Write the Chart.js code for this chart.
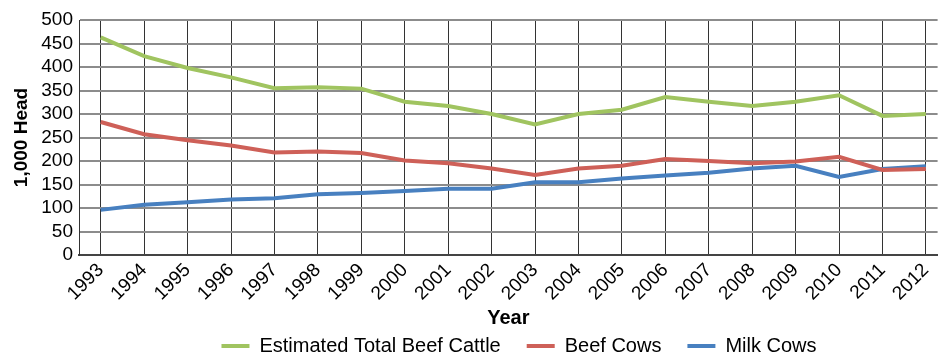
<!DOCTYPE html>
<html lang="en"><head>
<meta charset="utf-8">
<title>Cattle</title>
<style type="text/css">
html,body { margin:0; padding:0; background:#ffffff; }
#box { width:946px; height:360px; }
</style>
<script src="https://cdn.jsdelivr.net/npm/chart.js"></script>
<script>
years=[1993,1994,1995,1996,1997,1998,1999,2000,2001,2002,2003,2004,2005,2006,2007,2008,2009,2010,2011,2012];
totalBeef=[463,423,398,378,355,357,354,326,317,300,278,300,309,336,326,317,326,340,296,300];
beefCows=[283,257,244,233,218,220,217,201,195,184,170,184,190,204,200,195,199,209,181,183];
milkCows=[96,107,112,118,121,129,132,136,141,141,155,155,163,169,175,184,190,166,183,189];
yTicks=[0,50,100,150,200,250,300,350,400,450,500];

function pts(vals) {
  out=[];
  for (i=0;i<years.length;i++) { out.push({x:years[i],y:vals[i]}); }
  return out; }

// legend box kept short so the plot can run down to the axis title,
// then nudged right so it sits under the plot centre
legendFit={id:'legendFit',
  afterInit:function(chart){
    orig=chart.legend.fit;
    chart.legend.fit=function(){ orig.call(this); this.height=50; }; },
  afterLayout:function(chart){
    chart.legend.left+=46; chart.legend.right+=46; }};

function initChart() {
  font="'Liberation Sans',Arial,sans-serif";
  data={datasets:[{
    label:'Estimated Total Beef Cattle',data:pts(totalBeef),
    borderColor:'rgb(160,196,96)',backgroundColor:'rgb(160,196,96)',borderWidth:4,pointRadius:0,tension:0},{
    label:'Beef Cows',data:pts(beefCows),
    borderColor:'rgb(206,96,88)',backgroundColor:'rgb(206,96,88)',borderWidth:4,pointRadius:0,tension:0},{
    label:'Milk Cows',data:pts(milkCows),
    borderColor:'rgb(72,128,192)',backgroundColor:'rgb(72,128,192)',borderWidth:4,pointRadius:0,tension:0}]};

  config={type:'line',data,plugins:[legendFit],options:{
    responsive:false,animation:false,
    layout:{padding:{top:20,right:0,left:0,bottom:0}},
    scales:{
      x:{type:'linear',min:1992.5,max:2012.27,
        grid:{color:'#333333',lineWidth:1,drawTicks:false},
        border:{color:'#444444',width:2},
        ticks:{stepSize:1,includeBounds:false,autoSkip:false,minRotation:45,maxRotation:45,padding:4,
          color:'#000000',font:{family:font,size:19},
          callback:function(v){return String(v);}},
        title:{display:true,text:'Year',color:'#000000',font:{family:font,size:20,weight:'bold'},padding:{top:0,bottom:-20}},
        afterFit:function(s){s.height=55;}},
      y:{min:0,max:500,
        grid:{color:'#8c8c8c',lineWidth:2,drawTicks:false},
        border:{color:'#333333',width:1},
        afterBuildTicks:function(s){s.ticks=yTicks.map(function(v){return {value:v};});},
        ticks:{autoSkip:false,padding:6,color:'#000000',font:{family:font,size:19}},
        title:{display:true,text:'1,000 Head',color:'#000000',font:{family:font,size:19,weight:'bold'},padding:{top:10,bottom:4}},
        afterFit:function(s){s.width=79;}}},
    plugins:{
      tooltip:{enabled:false},
      legend:{position:'bottom',
        labels:{usePointStyle:true,pointStyle:'line',pointStyleWidth:28,padding:26,
          color:'#000000',font:{family:font,size:20}}}}}};

  myChart=new Chart(document.getElementById('myChart'),config); }
</script></head>
<body onload="initChart();">
<div id="box"><canvas id="myChart" width="946" height="360"></canvas></div>
</body></html>
